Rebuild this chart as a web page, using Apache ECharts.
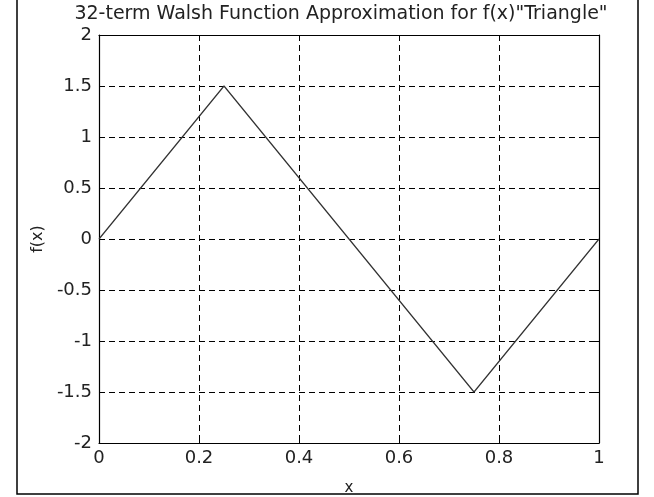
<!DOCTYPE html>
<html>
<head>
<meta charset="utf-8">
<script src="https://cdn.jsdelivr.net/npm/echarts@6/dist/echarts.min.js"></script>
<style>
  html, body { margin: 0; padding: 0; background: #fff; }
  #chart { width: 654px; height: 497px; }
</style>
</head>
<body>
<div id="chart"></div>
<script>
// Triangle wave f(x) sampled at its corner points
const xValues = [0, 0.25, 0.75, 1];
const yValues = [0, 1.5, -1.5, 0];

const titleText = '32-term Walsh Function Approximation for f(x)"Triangle"';
const xName = 'x';
const yName = 'f(x)';

const font = '"DejaVu Sans", Verdana, sans-serif';
const points = xValues.map((x, i) => [x, yValues[i]]);

const chart = echarts.init(document.getElementById('chart'));

const gridLine = { show: true, lineStyle: { color: '#000', type: [6, 4], width: 1 } };
const frameLine = { show: true, onZero: false, lineStyle: { color: '#000', width: 1.2 } };
const inTicks = { show: true, inside: true, length: 5, lineStyle: { color: '#000' } };

chart.setOption({
  backgroundColor: '#fff',
  animation: false,
  title: {
    text: titleText,
    left: 336, top: 0, textAlign: 'center',
    textStyle: { fontFamily: font, fontSize: 19, fontWeight: 'normal', color: '#222' }
  },
  graphic: [{
    type: 'rect', silent: true,
    shape: { x: 17, y: -5, width: 621, height: 499 },
    style: { fill: 'none', stroke: '#000', lineWidth: 1.5 }
  }],
  grid: {
    left: 99, right: 55, top: 35, bottom: 54,
    containLabel: false, outerBoundsMode: 'none'
  },
  xAxis: [{
    type: 'value', min: 0, max: 1, interval: 0.2, position: 'bottom',
    name: xName, nameLocation: 'middle', nameGap: 38,
    nameTextStyle: { fontFamily: font, fontSize: 15, color: '#222' },
    axisLine: frameLine, axisTick: inTicks,
    axisLabel: { fontFamily: font, fontSize: 18, color: '#222', margin: 6 },
    splitLine: gridLine
  }, {
    type: 'value', min: 0, max: 1, interval: 0.2, position: 'top',
    axisLine: frameLine, axisTick: inTicks,
    axisLabel: { show: false }, splitLine: { show: false }
  }],
  yAxis: [{
    type: 'value', min: -2, max: 2, interval: 0.5, position: 'left',
    name: yName, nameLocation: 'middle', nameGap: 52, nameRotate: 90,
    nameTextStyle: { fontFamily: font, fontSize: 16, color: '#222' },
    axisLine: frameLine, axisTick: inTicks,
    axisLabel: { fontFamily: font, fontSize: 18, color: '#222', margin: 7 },
    splitLine: gridLine
  }, {
    type: 'value', min: -2, max: 2, interval: 0.5, position: 'right',
    axisLine: frameLine, axisTick: inTicks,
    axisLabel: { show: false }, splitLine: { show: false }
  }],
  series: [{
    type: 'line',
    data: points,
    symbol: 'none',
    lineStyle: { color: '#333', width: 1.2 },
    z: 5
  }]
});
</script>
</body>
</html>
